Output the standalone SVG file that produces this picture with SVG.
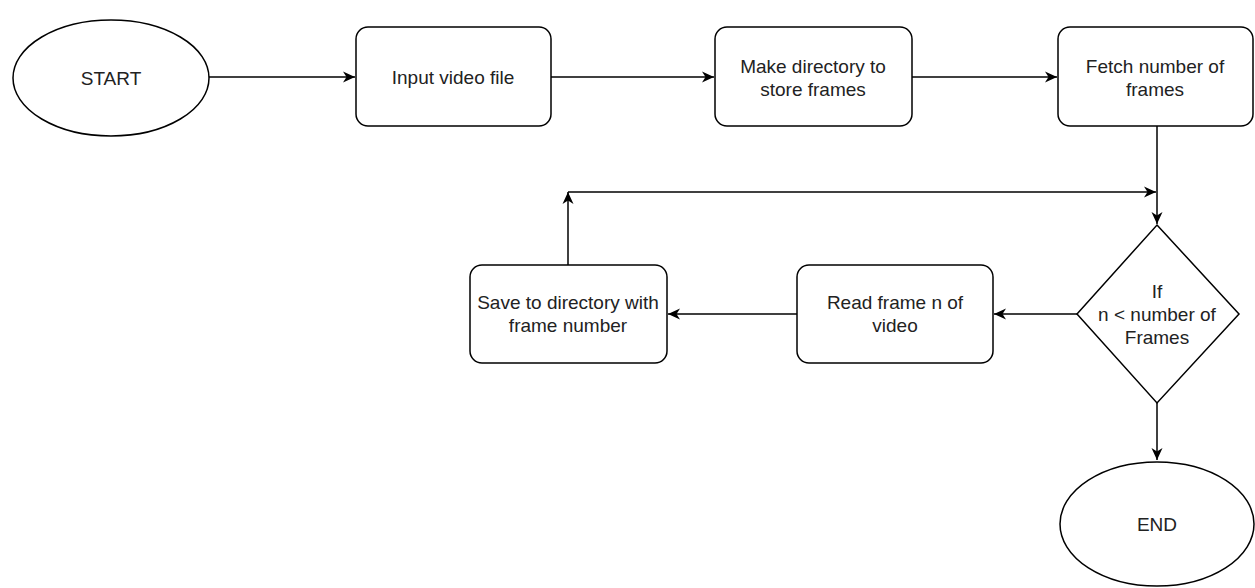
<svg xmlns="http://www.w3.org/2000/svg" width="1255" height="588" viewBox="0 0 1255 588">
  <style>
    .shape { fill: #ffffff; stroke: #000000; stroke-width: 1.5; }
    .lbl { font-family: "Liberation Sans", Arial, sans-serif; font-size: 19px; fill: #222222; text-anchor: middle; }
    .edge { fill: none; stroke: #000000; stroke-width: 1.5; }
  </style>
  <defs>
    <marker id="arr" markerUnits="userSpaceOnUse" markerWidth="14" markerHeight="12" refX="12" refY="6" orient="auto">
      <path d="M0,0.5 L12,6 L0,11.5 L3.5,6 z" fill="#000000"/>
    </marker>
  </defs>
  <rect width="1255" height="588" fill="#ffffff"/>

  <g id="connectors">
    <line class="edge" x1="209" y1="77" x2="355" y2="77" marker-end="url(#arr)"/>
    <line class="edge" x1="551" y1="77" x2="714" y2="77" marker-end="url(#arr)"/>
    <line class="edge" x1="912" y1="77" x2="1057" y2="77" marker-end="url(#arr)"/>
    <line class="edge" x1="1157" y1="126" x2="1157" y2="224" marker-end="url(#arr)"/>
    <line class="edge" x1="1077" y1="314" x2="994" y2="314" marker-end="url(#arr)"/>
    <line class="edge" x1="797" y1="314" x2="668" y2="314" marker-end="url(#arr)"/>
    <line class="edge" x1="568" y1="265" x2="568" y2="192" marker-end="url(#arr)"/>
    <line class="edge" x1="568" y1="192" x2="1156" y2="192" marker-end="url(#arr)"/>
    <line class="edge" x1="1157" y1="403" x2="1157" y2="460" marker-end="url(#arr)"/>
  </g>

  <g id="start">
    <ellipse class="shape" cx="111" cy="78" rx="98" ry="58"/>
    <text class="lbl" x="111" y="85">START</text>
  </g>

  <g id="input">
    <rect class="shape" x="356" y="27" width="195" height="99" rx="12"/>
    <text class="lbl" x="453" y="84">Input video file</text>
  </g>

  <g id="makedir">
    <rect class="shape" x="715" y="27" width="197" height="99" rx="12"/>
    <text class="lbl" x="813" y="73">Make directory to</text>
    <text class="lbl" x="813" y="96">store frames</text>
  </g>

  <g id="fetch">
    <rect class="shape" x="1058" y="27" width="195" height="99" rx="12"/>
    <text class="lbl" x="1155" y="73">Fetch number of</text>
    <text class="lbl" x="1155" y="96">frames</text>
  </g>

  <g id="decision">
    <polygon class="shape" points="1157,225 1239,314 1157,403 1077,314"/>
    <text class="lbl" x="1157" y="298">If</text>
    <text class="lbl" x="1157" y="321">n &lt; number of</text>
    <text class="lbl" x="1157" y="344">Frames</text>
  </g>

  <g id="readframe">
    <rect class="shape" x="797" y="265" width="196" height="98" rx="12"/>
    <text class="lbl" x="895" y="309">Read frame n of</text>
    <text class="lbl" x="895" y="332">video</text>
  </g>

  <g id="save">
    <rect class="shape" x="470" y="265" width="197" height="98" rx="12"/>
    <text class="lbl" x="568" y="309">Save to directory with</text>
    <text class="lbl" x="568" y="332">frame number</text>
  </g>

  <g id="end">
    <ellipse class="shape" cx="1157" cy="524" rx="97" ry="62"/>
    <text class="lbl" x="1157" y="531">END</text>
  </g>
</svg>
